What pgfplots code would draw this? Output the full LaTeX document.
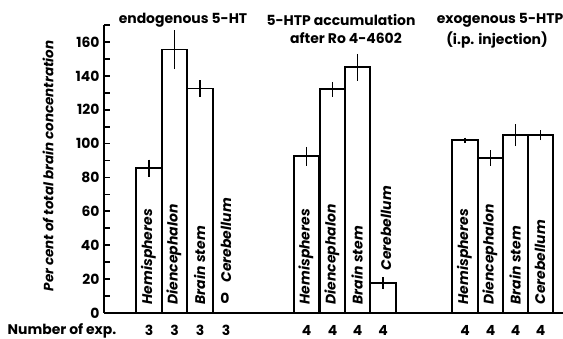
\documentclass[border=0pt]{standalone}
\usepackage{pgfplots}
\pgfplotsset{compat=1.18}
\usepackage{pgfplotstable}
\usepackage{fontspec}
\setmainfont{Poppins}
\pgfplotstableread{
x y e
149 85.5 5
174.5 155.5 11.5
200 132.5 5
306.5 92.5 5.5
332.5 132 4.5
357.5 145 8
383 17.5 3.5
465 102 1.5
490.5 91.5 4.5
515.5 105 6.5
540.5 105 3
}\bars
\begin{document}
\begin{tikzpicture}
\useasboundingbox (0,0) rectangle (563bp,339bp);
\begin{axis}[
 at={(104bp,26bp)}, anchor=south west, scale only axis,
 width=459bp, height=288bp,
 xmin=104, xmax=563, ymin=0, ymax=170,
 axis x line=bottom, axis y line=left,
 axis line style={-, line width=2.6bp},
 every outer x axis line/.append style={-},
 every outer y axis line/.append style={-},
 xtick=\empty, ytick={0,20,...,160}, minor ytick={10,30,...,170},
 tick align=inside, major tick length=6bp, minor tick length=6bp,
 tick style={line width=1.8bp, black},
 yticklabel style={font=\fontsize{14}{14}\selectfont\bfseries, xshift=-1bp},
 /pgf/number format/assume math mode=true,
 clip=false,
]
\addplot[ybar, bar width=25.5, draw=black, fill=white, line width=1.8bp,
 error bars/.cd, y dir=both, y explicit, error mark=none,
 error bar style={line width=1.5bp, black}]
 table[x=x, y=y, y error=e] {\bars};

\tikzset{bl/.style={rotate=90, anchor=west, inner sep=0pt, font=\fontsize{14}{14}\selectfont\bfseries\itshape}}
\node[bl] at (axis cs:148.5,5) {Hemispheres};
\node[bl] at (axis cs:174,5) {Diencephalon};
\node[bl] at (axis cs:199.5,5) {Brain stem};
\node[bl] at (axis cs:226,18) {Cerebellum};
\node[font=\fontsize{14}{14}\selectfont\bfseries] at (axis cs:225,8.5) {0};
\node[bl] at (axis cs:306,5) {Hemispheres};
\node[bl] at (axis cs:332,5) {Diencephalon};
\node[bl] at (axis cs:357,5) {Brain stem};
\node[bl] at (axis cs:386,25) {Cerebellum};
\node[bl] at (axis cs:464.5,5) {Hemispheres};
\node[bl] at (axis cs:490,5) {Diencephalon};
\node[bl] at (axis cs:515,5) {Brain stem};
\node[bl] at (axis cs:540,5) {Cerebellum};

\tikzset{nm/.style={inner sep=0pt, font=\fontsize{14}{14}\selectfont\bfseries}}
\node[nm] at (axis cs:62,-10.3) {Number of exp.};
\pgfplotsinvokeforeach{149,174.5,200,226}{\node[nm] at (axis cs:#1,-10.3) {3};}
\pgfplotsinvokeforeach{306.5,332.5,357.5,383,465,490.5,515.5,540.5}{\node[nm] at (axis cs:#1,-10.3) {4};}

\node[nm] at (axis cs:183,173) {endogenous 5-HT};
\node[nm] at (axis cs:341,173) {5-HTP accumulation};
\node[nm] at (axis cs:346,162) {after Ro 4-4602};
\node[nm] at (axis cs:500,173) {exogenous 5-HTP};
\node[nm] at (axis cs:497,161) {(i.p. injection)};

\node[rotate=90, font=\fontsize{13.5}{13.5}\selectfont\bfseries\itshape] at (axis cs:48,86.8) {Per cent of total brain concentration};
\end{axis}
\end{tikzpicture}
\end{document}
